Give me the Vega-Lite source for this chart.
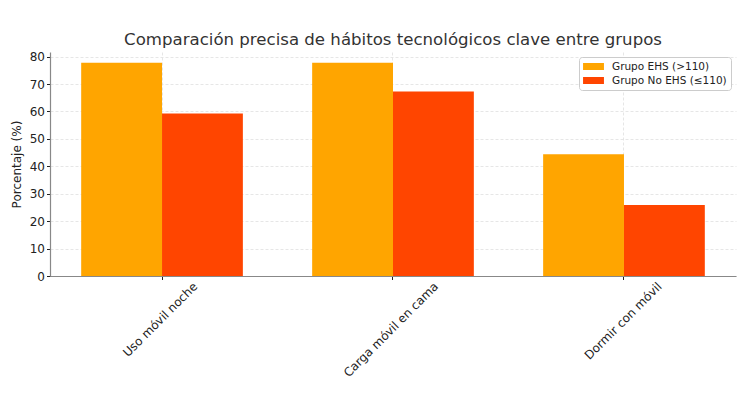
{
  "$schema": "https://vega.github.io/schema/vega-lite/v6.json",
  "width": 686,
  "height": 224,
  "autosize": {"type": "none"},
  "padding": {"left": 50, "top": 52, "right": 16, "bottom": 117},
  "background": "white",
  "title": {"text": "Comparación precisa de hábitos tecnológicos clave entre grupos", "font": "DejaVu Sans", "fontSize": 16.6, "fontWeight": "normal", "color": "#333333", "anchor": "middle", "offset": 2},
  "data": {"values": [
    {"habito": "Uso móvil noche", "grupo": "Grupo EHS (>110)", "porcentaje": 77.8},
    {"habito": "Uso móvil noche", "grupo": "Grupo No EHS (≤110)", "porcentaje": 59.3},
    {"habito": "Carga móvil en cama", "grupo": "Grupo EHS (>110)", "porcentaje": 77.8},
    {"habito": "Carga móvil en cama", "grupo": "Grupo No EHS (≤110)", "porcentaje": 67.3},
    {"habito": "Dormir con móvil", "grupo": "Grupo EHS (>110)", "porcentaje": 44.4},
    {"habito": "Dormir con móvil", "grupo": "Grupo No EHS (≤110)", "porcentaje": 25.9}
  ]},
  "mark": {"type": "bar"},
  "encoding": {
    "x": {
      "field": "habito", "type": "nominal",
      "sort": ["Uso móvil noche", "Carga móvil en cama", "Dormir con móvil"],
      "scale": {"paddingInner": 0.3, "paddingOuter": 0.135},
      "axis": {
        "title": null, "bandPosition": 0.5,
        "labelAngle": -45, "labelAlign": "right", "labelBaseline": "top",
        "labelFont": "DejaVu Sans", "labelFontSize": 12, "labelColor": "#222222",
        "labelPadding": 1, "tickSize": 3.5, "tickColor": "#222222", "tickWidth": 1,
        "labelOffset": {"expr": "length(datum.label)*2.45-7"},
        "domainColor": "#888888", "domainWidth": 1.2,
        "grid": true, "gridColor": "#e0e0e0", "gridDash": [3, 2], "gridWidth": 0.8
      }
    },
    "xOffset": {"field": "grupo", "type": "nominal", "sort": ["Grupo EHS (>110)", "Grupo No EHS (≤110)"], "scale": {"paddingInner": 0, "paddingOuter": 0}},
    "y": {
      "field": "porcentaje", "type": "quantitative",
      "scale": {"domain": [0, 81.7], "nice": false, "zero": true},
      "axis": {
        "title": "Porcentaje (%)", "titleFont": "DejaVu Sans", "titleFontSize": 12, "titleFontWeight": "normal", "titleColor": "#222222", "titlePadding": 6,
        "values": [0, 10, 20, 30, 40, 50, 60, 70, 80],
        "labelFont": "DejaVu Sans", "labelFontSize": 12, "labelColor": "#222222", "labelPadding": 2,
        "tickSize": 3.5, "tickColor": "#222222",
        "domainColor": "#888888", "domainWidth": 1.2,
        "grid": true, "gridColor": "#e0e0e0", "gridDash": [3, 2], "gridWidth": 0.8
      }
    },
    "color": {
      "field": "grupo", "type": "nominal",
      "scale": {"domain": ["Grupo EHS (>110)", "Grupo No EHS (≤110)"], "range": ["#FFA500", "#FF4500"]},
      "legend": {
        "title": null, "orient": "top-right", "offset": 5,
        "labelFont": "DejaVu Sans", "labelFontSize": 10.5, "labelColor": "#222222", "labelOffset": 13,
        "symbolType": "M-1.9,-0.64L1.9,-0.64L1.9,0.64L-1.9,0.64Z", "symbolSize": 121, "symbolOffset": 5, "symbolStrokeWidth": 0, "symbolOpacity": 1,
        "padding": 4, "rowPadding": 3, "cornerRadius": 3, "strokeColor": "#cccccc", "fillColor": "white"
      }
    }
  },
  "config": {"view": {"stroke": null}}
}
